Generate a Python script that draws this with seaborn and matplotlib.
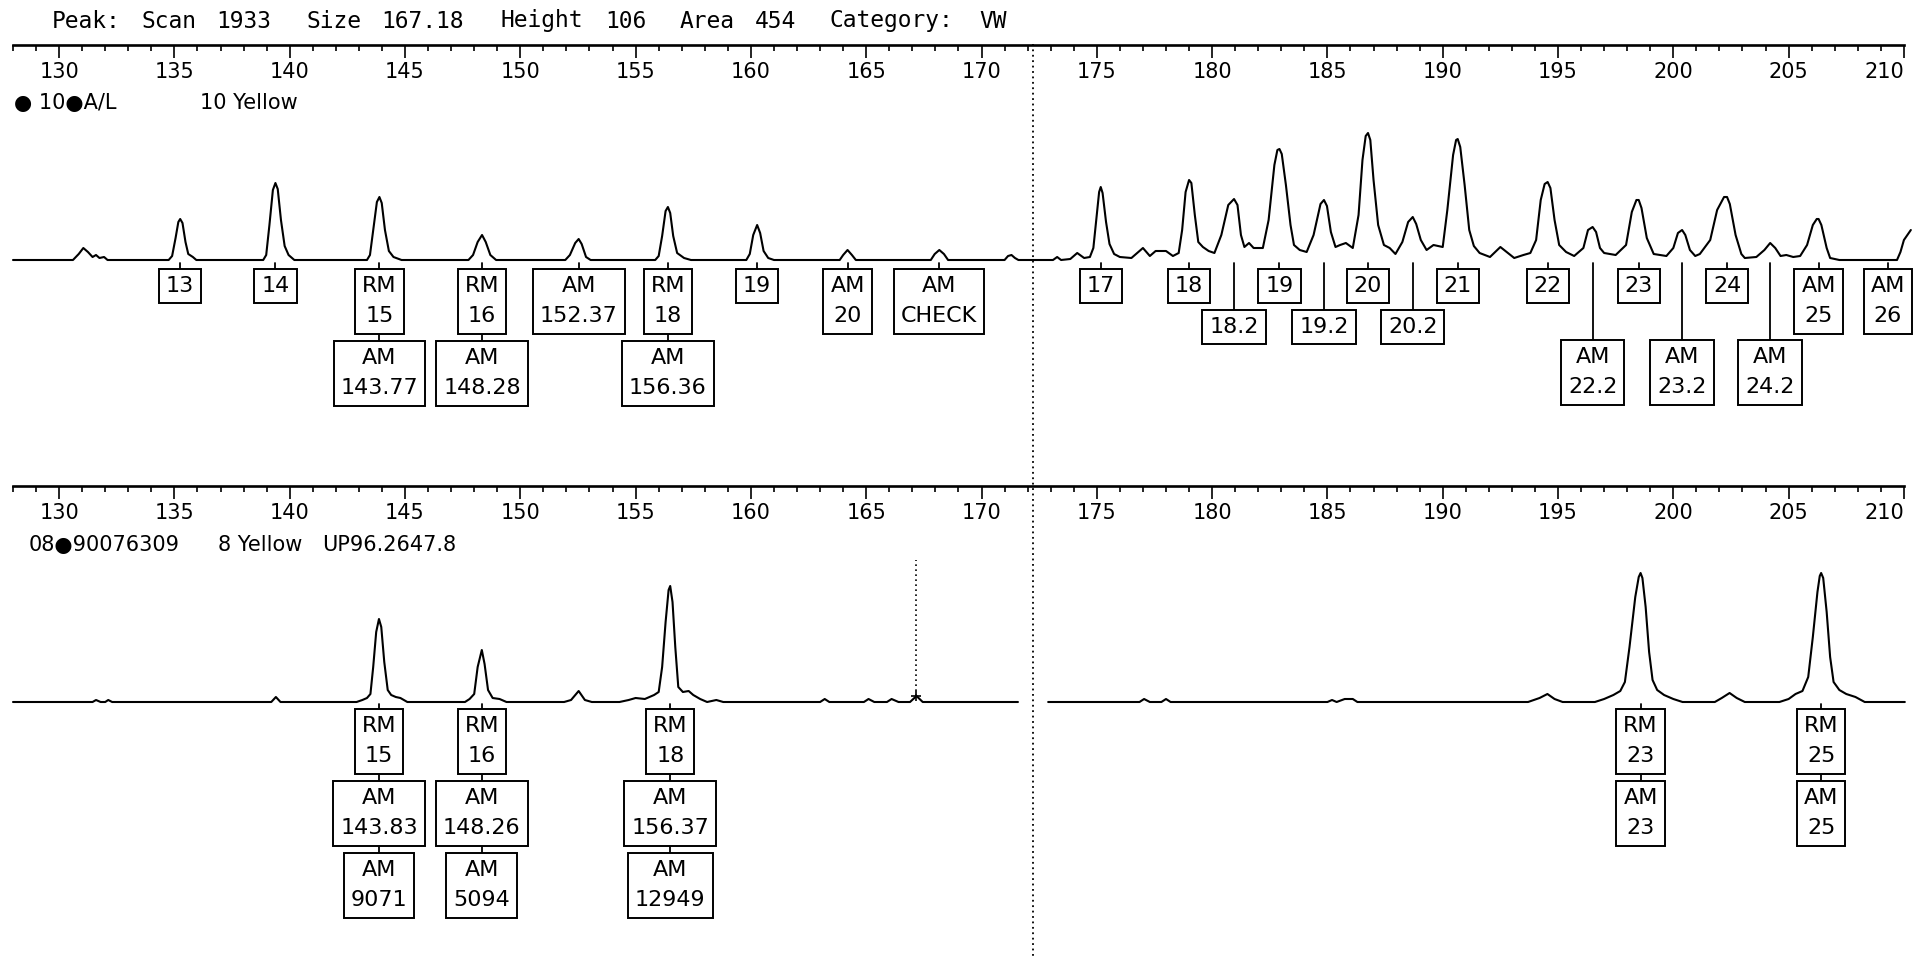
import matplotlib
matplotlib.use("Agg")
import matplotlib.pyplot as plt
import seaborn as sns
import pandas as pd
from matplotlib.patches import Rectangle
from matplotlib.ticker import MultipleLocator

# ------------------------------------------------------------------ data
HEADER_FIELDS = ["Peak:", "Scan", "1933", "Size", "167.18", "Height", "106",
                 "Area", "454", "Category:", "VW"]
SELECTED_SIZE = 167.18
TOP_LEGEND = ["\u25cf 10\u25cfA/L", "10 Yellow"]
BOT_LEGEND = ["08\u25cf90076309", "8 Yellow", "UP96.2647.8"]
RULER_MAJOR = list(range(130, 211, 5))
SIZE_MIN, SIZE_MAX = 128, 210
BREAK_SIZE = 172.23

# top lane trace (size, signal)
top_x = [128.0, 130.6, 130.85, 131.05, 131.25, 131.45, 131.6, 131.75, 131.95, 132.1,
         134.75, 134.9, 135.05, 135.17, 135.25, 135.35, 135.48, 135.6, 135.8, 135.95,
         138.85, 138.98, 139.12, 139.27, 139.38, 139.48, 139.62, 139.78, 139.95, 140.2,
         143.35, 143.48, 143.62, 143.78, 143.89, 143.99, 144.13, 144.3, 144.5, 144.85,
         147.75, 147.95, 148.15, 148.34, 148.5, 148.7, 148.95,
         151.95, 152.15, 152.38, 152.53, 152.66, 152.85, 153.05,
         155.85, 156.0, 156.15, 156.3, 156.4, 156.5, 156.63, 156.8, 157.1, 157.4,
         159.8, 159.95, 160.1, 160.27, 160.4, 160.55, 160.75, 161.0,
         163.85, 164.0, 164.19, 164.38, 164.55,
         167.8, 167.97, 168.17, 168.37, 168.55,
         171.0, 171.15, 171.3, 171.45, 171.6,
         173.1, 173.28, 173.45, 173.85, 174.15, 174.45,
         174.7, 174.85, 175.0, 175.1, 175.17, 175.25, 175.4, 175.55, 175.75, 176.0, 176.5,
         176.8, 177.0, 177.3, 177.55, 178.0, 178.3,
         178.55, 178.7, 178.85, 179.0, 179.1, 179.25, 179.4, 179.6, 179.85, 180.1,
         180.4, 180.7, 180.95, 181.1, 181.25, 181.4, 181.6, 181.8, 182.2,
         182.45, 182.7, 182.83, 182.92, 183.02, 183.2, 183.4, 183.55, 183.8, 184.1,
         184.4, 184.7, 184.85, 184.98, 185.15, 185.35, 185.55, 185.8, 186.1,
         186.35, 186.52, 186.66, 186.76, 186.86, 187.0, 187.2, 187.45, 187.7, 187.95,
         188.25, 188.5, 188.7, 188.85, 189.05, 189.3, 189.6, 190.0,
         190.2, 190.45, 190.58, 190.65, 190.76, 190.95, 191.15, 191.35, 191.6, 192.05,
         192.5, 193.1, 193.5, 193.8,
         194.05, 194.25, 194.42, 194.55, 194.67, 194.85, 195.05, 195.35, 195.7,
         196.1, 196.3, 196.5, 196.65, 196.82, 197.0, 197.5,
         197.95, 198.2, 198.4, 198.5, 198.62, 198.85, 199.15, 199.7,
         200.0, 200.2, 200.38, 200.52, 200.72, 200.95, 201.15,
         201.6, 201.9, 202.2, 202.33, 202.45, 202.7, 202.95, 203.1,
         203.6, 203.95, 204.2, 204.42, 204.65, 204.9, 205.2, 205.5,
         205.8, 206.05, 206.22, 206.3, 206.42, 206.65, 206.8, 207.2,
         209.7, 209.85, 210.0, 210.3]
top_y = [0, 0, 6, 12, 8, 3, 5, 2, 3, 0,
         0, 4, 22, 38, 41, 37, 18, 6, 3, 0,
         0, 5, 35, 70, 77, 71, 40, 14, 5, 0,
         0, 5, 30, 58, 63, 57, 30, 9, 3, 0,
         0, 5, 18, 25, 18, 5, 0,
         0, 5, 17, 21, 16, 3, 0,
         0, 4, 24, 49, 53, 47, 24, 7, 2, 0,
         0, 6, 25, 35, 27, 9, 2, 0,
         0, 5, 10, 5, 0,
         0, 6, 10, 6, 0,
         0, 4, 5, 2, 0,
         0, 3, 0, 1, 7, 2,
         3, 12, 45, 68, 73, 67, 38, 16, 6, 3, 2,
         8, 12, 4, 9, 9, 4,
         7, 30, 68, 80, 77, 45, 18, 13, 9, 7,
         25, 55, 61, 55, 25, 13, 17, 12, 12,
         40, 95, 110, 111, 106, 75, 35, 15, 10, 8,
         25, 56, 60, 54, 28, 13, 15, 17, 12,
         45, 100, 124, 127, 120, 80, 35, 15, 12, 6,
         18, 38, 43, 36, 20, 10, 15, 13,
         50, 105, 120, 121, 113, 75, 30, 14, 7, 3,
         13, 2, 5, 7,
         20, 60, 76, 78, 72, 40, 15, 8, 4,
         12, 30, 33, 28, 12, 7, 5,
         15, 48, 60, 60, 52, 22, 6, 4,
         12, 27, 30, 25, 10, 4, 6,
         20, 50, 63, 63, 56, 25, 6, 2,
         3, 10, 17, 12, 4, 5, 3, 4,
         15, 35, 41, 41, 35, 12, 2, 0,
         0, 8, 20, 30]

# bottom lane trace, two segments either side of the break
bot_left_x = [128.0, 131.45, 131.6, 131.8, 132.0, 132.13, 132.3, 139.2, 139.4, 139.6,
              142.9, 143.15, 143.35, 143.5, 143.62, 143.75, 143.87, 143.97, 144.1, 144.25,
              144.4, 144.6, 144.8, 145.1,
              147.6, 147.8, 148.0, 148.15, 148.33, 148.45, 148.6, 148.8, 149.1, 149.4,
              151.9, 152.2, 152.53, 152.8, 153.1,
              154.3, 154.7, 155.0, 155.4, 155.8, 156.0,
              156.15, 156.3, 156.43, 156.5, 156.6, 156.72, 156.85, 157.05, 157.3, 157.5,
              157.8, 158.1, 158.5, 158.8,
              163.0, 163.2, 163.4, 164.9, 165.1, 165.35, 165.9, 166.1, 166.4,
              166.9, 167.18, 167.45, 171.58]
bot_left_y = [0, 0, 2, 0, 0, 2, 0, 0, 5, 0,
              0, 2, 4, 8, 35, 70, 83, 75, 40, 12,
              7, 5, 4, 0,
              0, 3, 8, 35, 52, 38, 12, 4, 3, 0,
              0, 2, 11, 2, 0,
              0, 2, 4, 3, 7, 10,
              35, 80, 112, 116, 100, 55, 15, 10, 11, 7,
              3, 0, 2, 0,
              0, 3, 0, 0, 3, 0, 0, 3, 0,
              0, 6, 0, 0]
bot_right_x = [172.89, 176.85, 177.05, 177.3, 177.8, 178.0, 178.2,
               185.0, 185.2, 185.4, 185.75, 186.1, 186.3,
               193.7, 194.2, 194.54, 194.85, 195.2,
               196.6, 197.0, 197.4, 197.7, 197.9, 198.1, 198.35, 198.5, 198.58, 198.66,
               198.8, 198.95, 199.1, 199.3, 199.6, 200.0, 200.4,
               201.8, 202.1, 202.44, 202.75, 203.1,
               204.6, 205.0, 205.3, 205.6, 205.85, 206.05, 206.25, 206.35, 206.41, 206.5,
               206.65, 206.8, 206.95, 207.2, 207.5, 207.9, 208.3, 210.04]
bot_right_y = [0, 0, 3, 0, 0, 3, 0,
               0, 2, 0, 3, 3, 0,
               0, 4, 8, 3, 0,
               0, 3, 7, 11, 20, 55, 105, 125, 129, 124,
               95, 50, 22, 12, 7, 3, 0,
               0, 4, 9, 4, 0,
               0, 3, 8, 11, 25, 65, 110, 126, 129, 124,
               90, 45, 20, 12, 8, 5, 0, 0]

# allele calls (size, label)
top_row1_size = [135.25, 139.38, 143.89, 148.34, 152.53, 156.40, 160.27, 164.19, 168.17,
                 175.17, 179.0, 182.92, 186.76, 190.65, 194.55, 198.5, 202.33, 206.3, 210.3]
top_row1_text = ["13", "14", "RM\n15", "RM\n16", "AM\n152.37", "RM\n18", "19", "AM\n20",
                 "AM\nCHECK", "17", "18", "19", "20", "21", "22", "23", "24", "AM\n25", "AM\n26"]
top_row2_size = [143.89, 148.34, 156.40]
top_row2_text = ["AM\n143.77", "AM\n148.28", "AM\n156.36"]
top_var_size = [180.95, 184.85, 188.7]
top_var_text = ["18.2", "19.2", "20.2"]
top_var2_size = [196.5, 200.38, 204.2]
top_var2_text = ["AM\n22.2", "AM\n23.2", "AM\n24.2"]

bot_row1_size = [143.87, 148.33, 156.5, 198.58, 206.41]
bot_row1_text = ["RM\n15", "RM\n16", "RM\n18", "RM\n23", "RM\n25"]
bot_row2_size = [143.87, 148.33, 156.5, 198.58, 206.41]
bot_row2_text = ["AM\n143.83", "AM\n148.26", "AM\n156.37", "AM\n23", "AM\n25"]
bot_row3_size = [143.87, 148.33, 156.5]
bot_row3_text = ["AM\n9071", "AM\n5094", "AM\n12949"]

# ------------------------------------------------------------------ layout
W, H, DPI = 1915, 957, 100
PXU = 23.06                      # pixels per size unit
X0 = SIZE_MIN - 13 / PXU
X1 = X0 + W / PXU

sns.set_theme(style="white")
plt.rcParams["font.family"] = ["DejaVu Sans"]
plt.rcParams["text.color"] = "black"

fig = plt.figure(figsize=(W / DPI, H / DPI), dpi=DPI, facecolor="white")


def fy(px):
    return 1 - px / H


def lane_axes(top_px, bot_px, base_px):
    ax = fig.add_axes([0, fy(bot_px), 1, (bot_px - top_px) / H])
    ax.set_xlim(X0, X1)
    ax.set_ylim(-(bot_px - base_px), base_px - top_px)
    ax.axis("off")
    ax.patch.set_alpha(0)
    return ax


def ruler(px):
    ax = fig.add_axes([0, fy(px), 1, 3 / H])
    ax.set_xlim(X0, X1)
    ax.patch.set_alpha(0)
    for s in ("top", "left", "right"):
        ax.spines[s].set_visible(False)
    ax.spines["bottom"].set_linewidth(1.9)
    ax.spines["bottom"].set_color("black")
    ax.spines["bottom"].set_bounds(SIZE_MIN, SIZE_MAX)
    ax.set_yticks([])
    ax.set_xticks(RULER_MAJOR)
    ax.set_xticklabels([str(v) for v in RULER_MAJOR])
    ax.xaxis.set_minor_locator(MultipleLocator(1))
    ax.tick_params(axis="x", which="major", direction="out", length=9.5, width=1.2,
                   colors="black", labelsize=15, pad=2.5, bottom=True)
    ax.tick_params(axis="x", which="minor", direction="out", length=4.5, width=1.2,
                   colors="black", bottom=True)
    ax.get_xticklabels()[-1].set_horizontalalignment("right")
    ax.grid(False)
    return ax


ruler(45)
ruler(486)

ax_top = lane_axes(110, 470, 260)
ax_bot = lane_axes(555, 957, 702)

line_kw = dict(color="black", linewidth=1.5, estimator=None, sort=False, legend=False)
sns.lineplot(data=pd.DataFrame({"size": top_x, "signal": top_y}), x="size", y="signal",
             ax=ax_top, **line_kw)
sns.lineplot(data=pd.DataFrame({"size": bot_left_x, "signal": bot_left_y}), x="size",
             y="signal", ax=ax_bot, **line_kw)
sns.lineplot(data=pd.DataFrame({"size": bot_right_x, "signal": bot_right_y}), x="size",
             y="signal", ax=ax_bot, **line_kw)
for ax in (ax_top, ax_bot):
    ax.set_xlim(X0, X1)
    ax.axis("off")

# selected-peak marker in lower lane
ax_bot.vlines(SELECTED_SIZE, 6, 142, colors="black", linestyles=(0, (1, 2)), linewidth=1.2)
ax_bot.plot([SELECTED_SIZE], [6], marker="+", color="black", markersize=7, mew=1.2)

# ---- call boxes
boxes = []
FS = 16


def call_box(ax, x, text, top, conn_from):
    lines = text.split("\n")
    h = 34 + 31 * (len(lines) - 1)
    ts = []
    for i, ln in enumerate(lines):
        ts.append(ax.text(x, -(top + 17 + 30 * i), ln, ha="center", va="center",
                          fontsize=FS, color="black", zorder=5))
    conn = ax.plot([x, x], [-conn_from, -top], color="black", linewidth=1.3, zorder=4)[0]
    boxes.append((ax, x, top, h, ts, conn))
    return top + h


for s, t in zip(top_row1_size, top_row1_text):
    bottom = call_box(ax_top, s, t, 8.5, 3)
    if s in top_row2_size:
        j = top_row2_size.index(s)
        call_box(ax_top, s, top_row2_text[j], bottom + 7, bottom)
for s, t in zip(top_var_size, top_var_text):
    call_box(ax_top, s, t, 50, 3)
for s, t in zip(top_var2_size, top_var2_text):
    call_box(ax_top, s, t, 80, 3)

for i, (s, t) in enumerate(zip(bot_row1_size, bot_row1_text)):
    b1 = call_box(ax_bot, s, t, 7, 2)
    b2 = call_box(ax_bot, s, bot_row2_text[i], b1 + 7, b1)
    if s in bot_row3_size:
        j = bot_row3_size.index(s)
        call_box(ax_bot, s, bot_row3_text[j], b2 + 7, b2)

fig.canvas.draw()
renderer = fig.canvas.get_renderer()
for ax, x, top, h, ts, conn in boxes:
    wpx = max(t.get_window_extent(renderer).width for t in ts) + 14
    wd = wpx / PXU
    xc = min(x, X1 - (wd / 2) - 3 / PXU)   # keep the box inside the window
    if xc != x:
        for t in ts:
            t.set_x(xc)
        conn.set_xdata([xc, xc])
    ax.add_patch(Rectangle((xc - wd / 2, -(top + h)), wd, h, fill=True, facecolor="white",
                           edgecolor="black", linewidth=1.4, zorder=4.5))

# ---- header and lane legends
header_cols = [0, 6, 11, 17, 22, 30, 37, 42, 47, 52, 62]
for c, f in zip(header_cols, HEADER_FIELDS):
    fig.text((52 + c * 14.95) / W, fy(21), f, ha="left", va="center", fontsize=16.5,
             family="DejaVu Sans Mono", color="black")

for xp, f in zip([14, 200], TOP_LEGEND):
    fig.text(xp / W, fy(103), f, ha="left", va="center", fontsize=15, color="black")
for xp, f in zip([29, 218, 322], BOT_LEGEND):
    fig.text(xp / W, fy(545), f, ha="left", va="center", fontsize=15, color="black")

# ---- overlay: lane break
ax_ov = fig.add_axes([0, 0, 1, 1])
ax_ov.set_xlim(X0, X1)
ax_ov.set_ylim(H, 0)
ax_ov.axis("off")
ax_ov.patch.set_alpha(0)
ax_ov.vlines(BREAK_SIZE, 44, H, colors="black", linestyles=(0, (1, 2)), linewidth=1.3)

fig.savefig("out.png", dpi=DPI, facecolor="white")
